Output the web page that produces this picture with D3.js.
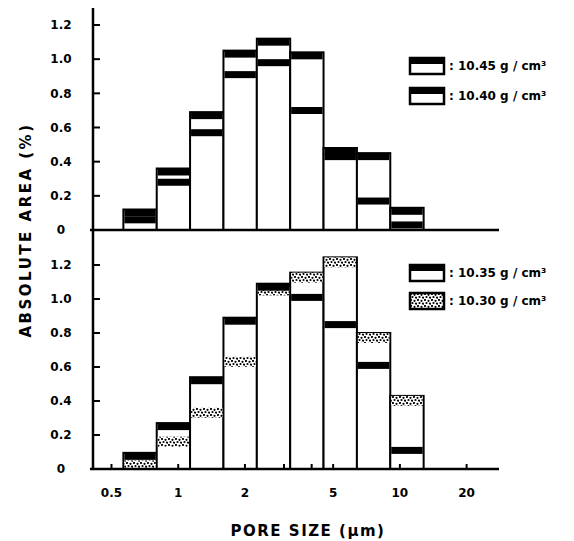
<!DOCTYPE html>
<meta charset="utf-8">
<style>
body { margin: 0; background: #fff; }
text { font-family: "DejaVu Sans", sans-serif; font-weight: bold; fill: #000; }
.tick-label { font-size: 12px; }
.legend-label { font-size: 12px; }
.title { font-size: 15px; }
</style>
<svg width="574" height="541"></svg>
<script src="https://d3js.org/d3.v7.min.js"></script>
<script>

// bin edges of the pore size classes (um), sqrt(2) steps
var binEdges = [0.5657, 0.8, 1.131, 1.6, 2.263, 3.2, 4.525, 6.4, 9.051, 12.8];

// upper panel
var d1045 = [0.08, 0.30, 0.59, 0.93, 1.00, 0.72, 0.45, 0.19, 0.05];
var d1040 = [0.12, 0.36, 0.69, 1.05, 1.12, 1.04, 0.48, 0.45, 0.13];
// lower panel
var d1035 = [0.095, 0.27, 0.54, 0.89, 1.09, 1.03, 0.87, 0.63, 0.13];
var d1030 = [0.05, 0.19, 0.36, 0.66, 1.08, 1.155, 1.245, 0.80, 0.43];

var xTicks = [0.5, 1, 2, 3, 4, 5, 10, 20];
var xTickLabels = [0.5, 1, 2, 5, 10, 20];
var yTicks = [0, 0.2, 0.4, 0.6, 0.8, 1.0, 1.2];

var svg = d3.select("svg");

// stipple fill
var defs = svg.append("defs");
var pat = defs.append("pattern")
    .attr("id", "dots")
    .attr("width", 7).attr("height", 6)
    .attr("patternUnits", "userSpaceOnUse");
pat.append("rect").attr("width", 7).attr("height", 6).attr("fill", "#fff");
[[1, 1], [4.5, 1.8], [2.5, 4], [6, 4.6]].forEach(function(p) {
  pat.append("circle").attr("cx", p[0]).attr("cy", p[1]).attr("r", 1.1).attr("fill", "#000");
});

var x = d3.scaleLog().domain([0.4, 28]).range([90, 499]);
var yTop = d3.scaleLinear().domain([0, 1.2]).range([230, 25]);
var yBot = d3.scaleLinear().domain([0, 1.2]).range([469, 265]);
var axisX = 93;

function panel(y, sA, sB, fillB) {
  var g = svg.append("g");
  var bins = d3.range(binEdges.length - 1).map(function(i) {
    return {x0: binEdges[i], x1: binEdges[i + 1], a: sA[i], b: sB[i]};
  });

  // bar outlines, white
  g.selectAll("rect.bar")
    .data(bins)
    .enter().append("rect")
      .attr("class", "bar")
      .attr("x", function(d) { return x(d.x0); })
      .attr("width", function(d) { return x(d.x1) - x(d.x0); })
      .attr("y", function(d) { return y(Math.max(d.a, d.b)); })
      .attr("height", function(d) { return y(0) - y(Math.max(d.a, d.b)); })
      .attr("fill", "#fff")
      .attr("stroke", "#000")
      .attr("stroke-width", 2);

  // series B band (drawn first)
  var hB = fillB === "#000" ? 7 : 10;
  g.selectAll("rect.bandB")
    .data(bins)
    .enter().append("rect")
      .attr("x", function(d) { return x(d.x0) + 1; })
      .attr("width", function(d) { return x(d.x1) - x(d.x0) - 2; })
      .attr("y", function(d) { return y(d.b); })
      .attr("height", function(d) { return Math.min(hB, y(0) - y(d.b) - 1); })
      .attr("fill", fillB);

  // series A band, black
  g.selectAll("rect.bandA")
    .data(bins)
    .enter().append("rect")
      .attr("x", function(d) { return x(d.x0) + 1; })
      .attr("width", function(d) { return x(d.x1) - x(d.x0) - 2; })
      .attr("y", function(d) { return y(d.a); })
      .attr("height", function(d) { return Math.min(7, y(0) - y(d.a) - 1); })
      .attr("fill", "#000");

  // y ticks (inward) and labels
  g.selectAll("line.yt")
    .data(yTicks.slice(1))
    .enter().append("line")
      .attr("x1", axisX).attr("x2", axisX + 7)
      .attr("y1", function(d) { return y(d); })
      .attr("y2", function(d) { return y(d); })
      .attr("stroke", "#000").attr("stroke-width", 2);

  g.selectAll("text.yl")
    .data(yTicks)
    .enter().append("text")
      .attr("class", "tick-label")
      .attr("x", 61)
      .attr("y", function(d) { return y(d); })
      .attr("dy", "0.36em")
      .attr("text-anchor", "middle")
      .text(function(d) { return d === 0 ? "0" : d.toFixed(1); });

  // baseline
  g.append("line")
    .attr("x1", x(0.4)).attr("x2", x(28))
    .attr("y1", y(0)).attr("y2", y(0))
    .attr("stroke", "#000").attr("stroke-width", 2.5);
  return g;
}

panel(yTop, d1045, d1040, "#000");
var gb = panel(yBot, d1035, d1030, "url(#dots)");

// y axis line through both panels
svg.append("line")
  .attr("x1", axisX).attr("x2", axisX)
  .attr("y1", 8).attr("y2", yBot(0))
  .attr("stroke", "#000").attr("stroke-width", 2.5);

// x ticks on the bottom axis
gb.selectAll("line.xt")
  .data(xTicks)
  .enter().append("line")
    .attr("x1", function(d) { return x(d); })
    .attr("x2", function(d) { return x(d); })
    .attr("y1", yBot(0)).attr("y2", yBot(0) - 5)
    .attr("stroke", "#000").attr("stroke-width", 2);

gb.selectAll("text.xl")
  .data(xTickLabels)
  .enter().append("text")
    .attr("class", "tick-label")
    .attr("x", function(d) { return x(d); })
    .attr("y", 497)
    .attr("text-anchor", "middle")
    .text(function(d) { return d; });

// titles
svg.append("text")
  .attr("class", "title")
  .attr("x", 308).attr("y", 536)
  .attr("text-anchor", "middle")
  .style("letter-spacing", "1.5px")
  .text("PORE SIZE (\u00b5m)");

svg.append("text")
  .attr("class", "title")
  .attr("transform", "translate(31,230) rotate(-90)")
  .attr("text-anchor", "middle")
  .style("letter-spacing", "2.5px")
  .text("ABSOLUTE AREA (%)");

// legends
var legendItems = [
  {y: 58, label: ": 10.45 g / cm\u00b3", fill: "#fff"},
  {y: 88, label: ": 10.40 g / cm\u00b3", fill: "#fff"},
  {y: 265, label: ": 10.35 g / cm\u00b3", fill: "#fff"},
  {y: 293, label: ": 10.30 g / cm\u00b3", fill: "url(#dots)"}
];

var lg = svg.selectAll("g.legend")
  .data(legendItems)
  .enter().append("g")
    .attr("transform", function(d) { return "translate(410," + d.y + ")"; });

lg.append("rect")
  .attr("width", 34).attr("height", 16)
  .attr("fill", function(d) { return d.fill; })
  .attr("stroke", "#000").attr("stroke-width", 2.5);

lg.filter(function(d) { return d.fill === "#fff"; })
  .append("rect")
    .attr("width", 34).attr("height", 6)
    .attr("fill", "#000");

lg.append("text")
  .attr("class", "legend-label")
  .attr("x", 39).attr("y", 8)
  .attr("dy", "0.36em")
  .text(function(d) { return d.label; });

</script>
